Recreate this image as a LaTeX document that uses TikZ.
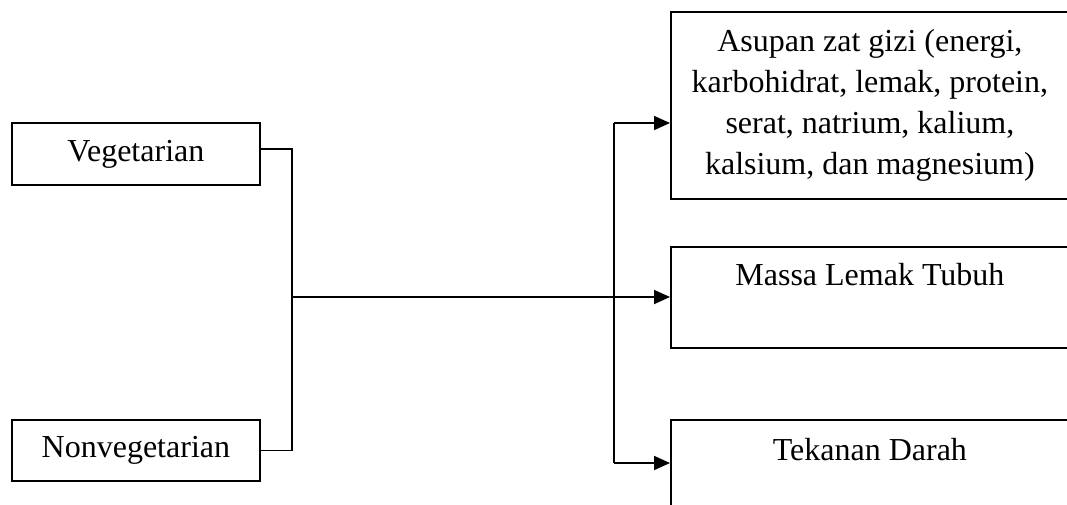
\documentclass[tikz,border=0pt]{standalone}
\usepackage{fontspec}
\setmainfont{Liberation Serif}
\usetikzlibrary{arrows.meta}
\begin{document}
\begin{tikzpicture}[x=1pt,y=-1pt,
  every node/.style={font=\fontsize{32}{41}\selectfont},
  box/.style={draw,line width=1.8pt,inner sep=0pt,align=center},
  conn/.style={line width=1.8pt},
  arr/.style={conn,-{Triangle[length=16pt,width=14pt]}}]
\useasboundingbox (0,0) rectangle (1067,504);
\clip (0,0) rectangle (1067,504);
% left boxes
\node[box,anchor=north west,minimum width=248,minimum height=62] (veg) at (11,122) {Vegetarian};
\node[box,anchor=north west,minimum width=248,minimum height=61] (nonveg) at (11,419) {Nonvegetarian};
% right boxes
\node[box,anchor=north west,minimum width=398,minimum height=187] (asupan) at (670,11)
  {Asupan zat gizi (energi,\\karbohidrat, lemak, protein,\\serat, natrium, kalium,\\kalsium, dan magnesium)};
\node[box,anchor=north west,minimum width=398,text height=39,text depth=62] (massa) at (670,246) {Massa Lemak Tubuh};
\node[box,anchor=north west,minimum width=398,text height=41,text depth=70] (tek) at (670,419) {Tekanan Darah};
% connectors
\coordinate (j) at (292,297);
\coordinate (vout) at (259,149);
\coordinate (atop) at (614,123);
\coordinate (abot) at (614,463);
\draw[conn] (vout) -- (vout -| j) -- (nonveg.east -| j) -- (nonveg.east);
\draw[arr] (j) -- (j -| massa.west);
\draw[conn] (atop) -- (abot);
\draw[arr] (atop) -- (atop -| asupan.west);
\draw[arr] (abot) -- (abot -| tek.west);
\end{tikzpicture}
\end{document}
